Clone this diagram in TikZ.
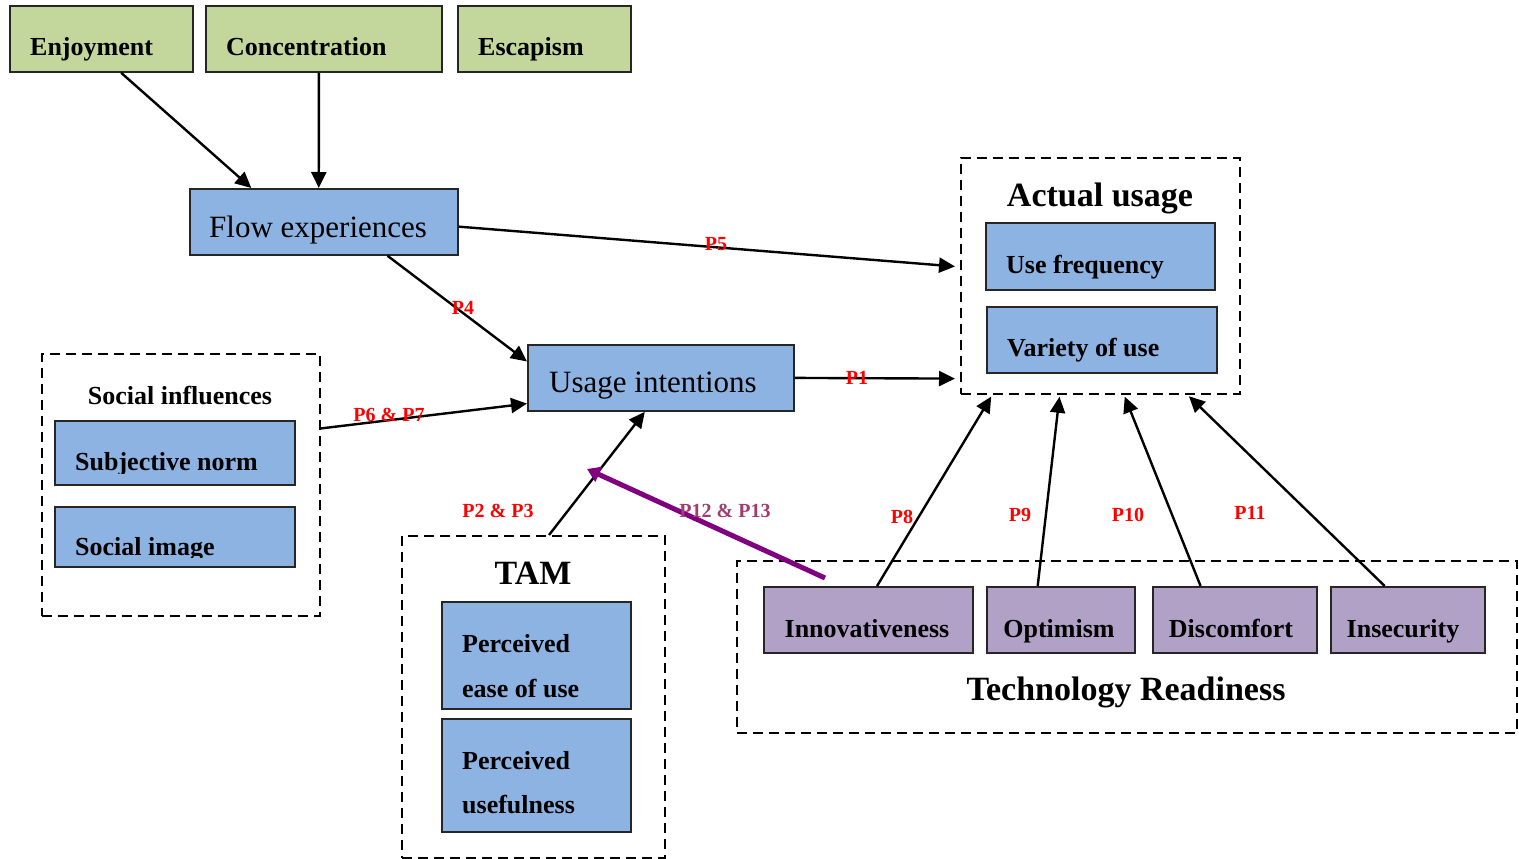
\documentclass[tikz,border=0pt]{standalone}
\usepackage{fontspec}
\setmainfont{Liberation Serif}
\usetikzlibrary{arrows.meta,calc}
\definecolor{gfill}{RGB}{195,214,155}
\definecolor{bfill}{RGB}{141,179,226}
\definecolor{pfill}{RGB}{178,161,199}
\definecolor{purp}{RGB}{128,0,128}
\definecolor{plab}{RGB}{160,60,110}
\tikzset{
  box/.style={draw=black!85, line width=1.8pt, inner sep=0pt, anchor=north west},
  gbox/.style={box, fill=gfill},
  bbox/.style={box, fill=bfill},
  pbox/.style={box, fill=pfill},
  grp/.style={draw, dash pattern=on 10pt off 6pt, line width=1.8pt, inner sep=0pt, anchor=north west},
  arr/.style={line width=2.4pt, -{Triangle[length=16pt,width=15pt]}},
  parr/.style={line width=5pt, draw=purp, -{Triangle[length=13pt,width=16pt]}},
  lab/.style={text=red, font=\fontsize{20}{22}\selectfont\bfseries, inner sep=0pt},
  btxt/.style={font=\fontsize{26}{30}\selectfont\bfseries, anchor=base west, inner sep=0pt},
  ctxt/.style={font=\fontsize{26}{30}\selectfont\bfseries, anchor=base, inner sep=0pt},
  rtxt/.style={font=\fontsize{31}{34}\selectfont, anchor=base west, inner sep=0pt},
  ttxt/.style={font=\fontsize{34}{38}\selectfont\bfseries, anchor=base, inner sep=0pt},
}
\begin{document}
\begin{tikzpicture}[x=1pt,y=-1pt]
\useasboundingbox (0,0) rectangle (1519,859);
% top green boxes
\node[gbox, minimum width=183pt, minimum height=66pt] (enj) at (9,5) {};
\node[btxt] (tenj) at (30,56) {Enjoyment};
\node[gbox, minimum width=236pt, minimum height=66pt] (con) at (205,5) {};
\node[btxt] (tcon) at (226,56) {Concentration};
\node[gbox, minimum width=173pt, minimum height=66pt] (esc) at (457,5) {};
\node[btxt] (tesc) at (478,56) {Escapism};
% flow / usage
\node[bbox, minimum width=268pt, minimum height=66pt] (flow) at (189,188) {};
\node[rtxt] (tflow) at (209,237) {Flow experiences};
\node[bbox, minimum width=266pt, minimum height=66pt] (ui) at (527,344) {};
\node[rtxt] (tui) at (549,392) {Usage intentions};
% social influences
\node[grp, minimum width=278pt, minimum height=262pt] (si) at (41,353) {};
\node[ctxt] (tsi) at (180,404) {Social influences};
\node[bbox, minimum width=240pt, minimum height=64pt] (sn) at (54,420) {};
\node[bbox, minimum width=240pt, minimum height=60pt] (sim) at (54,506) {};
\begin{scope}
\clip (54,420) rectangle (294,473);
\node[btxt] (tsn) at (75,470) {Subjective norm};
\end{scope}
\begin{scope}
\clip (54,506) rectangle (294,557);
\node[btxt] (tsim) at (75,555) {Social image};
\end{scope}
% actual usage
\node[grp, minimum width=279pt, minimum height=236pt] (au) at (960,157) {};
\node[ttxt] (tau) at (1100,206) {Actual usage};
\node[bbox, minimum width=229pt, minimum height=67pt] (uf) at (985,222) {};
\node[btxt] (tuf) at (1006,273) {Use frequency};
\node[bbox, minimum width=230pt, minimum height=66pt] (vu) at (986,306) {};
\node[btxt] (tvu) at (1007,356) {Variety of use};
% TAM
\node[grp, minimum width=263pt, minimum height=322pt] (tam) at (401,535) {};
\node[ttxt] (ttam) at (533,584) {TAM};
\node[bbox, minimum width=189pt, minimum height=107pt] (peou) at (441,601) {};
\node[btxt] (tpe1) at (462,652) {Perceived};
\node[btxt] (tpe2) at (462,697) {ease of use};
\node[bbox, minimum width=189pt, minimum height=113pt] (pu) at (441,718) {};
\node[btxt] (tpu1) at (462,769) {Perceived};
\node[btxt] (tpu2) at (462,813) {usefulness};
% technology readiness
\node[grp, minimum width=780pt, minimum height=172pt] (tr) at (736,560) {};
\node[pbox, minimum width=209pt, minimum height=66pt] (inno) at (763,586) {};
\node[ctxt] (tinno) at (867,637) {Innovativeness};
\node[pbox, minimum width=148pt, minimum height=66pt] (opt) at (986,586) {};
\node[ctxt] (topt) at (1059,637) {Optimism};
\node[pbox, minimum width=164pt, minimum height=66pt] (dis) at (1152,586) {};
\node[ctxt] (tdis) at (1231,637) {Discomfort};
\node[pbox, minimum width=154pt, minimum height=66pt] (ins) at (1330,586) {};
\node[ctxt] (tins) at (1403,637) {Insecurity};
\node[ttxt] (ttr) at (1126,700) {Technology Readiness};
% connectors
\draw[arr] ($(enj.south west)!0.607!(enj.south east)$) -- ($(flow.north west)!0.231!(flow.north east)$);
\draw[arr] ($(con.south west)!0.479!(con.south east)$) -- ($(flow.north west)!0.481!(flow.north east)$);
\draw[arr, shorten >=5pt] ($(flow.north east)!0.57!(flow.south east)$) -- ($(au.north west)!0.462!(au.south west)$);
\draw[arr] ($(flow.south west)!0.736!(flow.south east)$) -- ($(ui.north west)!0.258!(ui.south west)$);
\draw[arr, shorten >=5pt] (ui.east) -- ($(au.north west)!0.932!(au.south west)$);
\draw[arr] ($(si.north east)!0.286!(si.south east)$) -- ($(ui.north west)!0.879!(ui.south west)$);
\draw[arr] ($(tam.north west)!0.559!(tam.north east)$) -- ($(ui.south west)!0.44!(ui.south east)$);
\draw[arr, shorten >=2pt] ($(inno.north west)!0.541!(inno.north east)$) -- ($(au.south west)!0.115!(au.south east)$);
\draw[arr, shorten >=2pt] ($(opt.north west)!0.345!(opt.north east)$) -- ($(au.south west)!0.355!(au.south east)$);
\draw[arr, shorten >=2pt] ($(dis.north west)!0.293!(dis.north east)$) -- ($(au.south west)!0.584!(au.south east)$);
\draw[arr, shorten >=2pt] ($(ins.north west)!0.351!(ins.north east)$) -- ($(au.south west)!0.81!(au.south east)$);
\coordinate (ps) at (825,578);
\coordinate (pe) at (587,469);
\draw[parr] (ps) -- (pe);
% labels
\node[lab] (l5) at (716,244) {P5};
\node[lab] (l4) at (463,308) {P4};
\node[lab] (l1) at (857,378) {P1};
\node[lab] (l67) at (389,415) {P6 \& P7};
\node[lab] (l23) at (498,511) {P2 \& P3};
\node[lab, text=plab] (l1213) at (725,511) {P12 \& P13};
\node[lab] (l8) at (902,517) {P8};
\node[lab] (l9) at (1020,515) {P9};
\node[lab] (l10) at (1128,515) {P10};
\node[lab] (l11) at (1250,513) {P11};
\end{tikzpicture}
\end{document}
